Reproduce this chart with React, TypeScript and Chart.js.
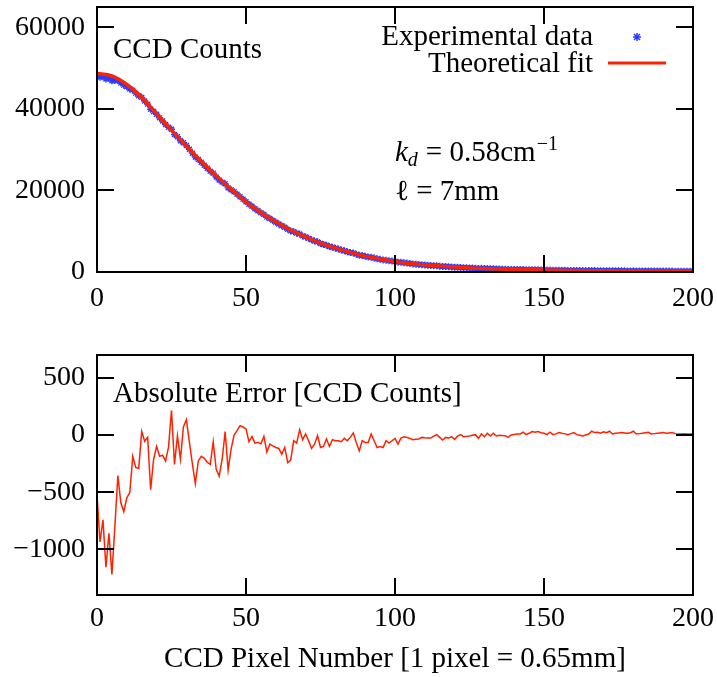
import React, { useEffect, useRef } from "react";
import { Chart, registerables } from "chart.js";

Chart.register(...registerables);

const FONT = "'Liberation Serif', 'Times New Roman', serif";
const FS = 28;
const TFS = 29;

// Tick labels
const xTickValues = [0, 50, 100, 150, 200];
const topYTickValues = [0, 20000, 40000, 60000];
const bottomYTickValues = [-1000, -500, 0, 500];

// Experimental data: CCD counts for pixel 0..200
const expCounts = [
  48180, 47750, 47880, 47360, 47490, 46880, 46950, 47000, 46360, 45830,
  45450, 44900, 44610, 43870, 43210, 42830, 41950, 41180, 39920, 39390,
  38700, 37810, 37020, 36170, 35490, 35020, 33740, 33190, 32190, 31720,
  31040, 30090, 29150, 28180, 27620, 26910, 26200, 25460, 24740, 24240,
  23300, 22540, 22040, 21630, 20640, 20180, 19700, 19090, 18480, 17870,
  17250, 16640, 16140, 15530, 15040, 14520, 14090, 13500, 13120, 12660,
  12190, 11780, 11330, 10990, 10460, 10080, 9900, 9530, 9300, 8860,
  8610, 8250, 7880, 7620, 7390, 6990, 6750, 6570, 6250, 6060,
  5850, 5630, 5400, 5210, 4970, 4780, 4640, 4380, 4120, 4030,
  3840, 3700, 3630, 3430, 3230, 3100, 2970, 2910, 2770, 2670,
  2570, 2420, 2370, 2290, 2180, 2070, 1990, 1920, 1860, 1800,
  1730, 1660, 1600, 1560, 1510, 1430, 1360, 1330, 1270, 1240,
  1160, 1150, 1120, 1070, 1030, 990, 970, 940, 880, 890,
  840, 840, 790, 790, 740, 720, 700, 670, 640, 640,
  630, 610, 600, 590, 560, 560, 560, 530, 530, 500,
  490, 460, 470, 440, 440, 440, 430, 410, 390, 390,
  390, 360, 350, 340, 340, 340, 350, 340, 330, 320,
  330, 310, 320, 290, 300, 290, 290, 280, 270, 270,
  280, 260, 250, 250, 250, 250, 230, 230, 230, 230,
  230, 220, 230, 220, 210, 210, 210, 210, 200, 200,
  200,
];

// Theoretical fit, sampled every 5 pixels
const fitPixels = [
  0, 5, 10, 15, 20, 25, 30, 35, 40, 45, 50, 55, 60, 65, 70, 75, 80, 85, 90, 95,
  100, 105, 110, 115, 120, 125, 130, 135, 140, 145, 150, 155, 160, 165, 170, 175,
  180, 185, 190, 195, 200,
];
const fitCounts = [
  48700, 48100, 46000, 42800, 38800, 34800, 30900, 27100, 23600, 20300,
  17200, 14600, 12300, 10300, 8600, 7100, 5900, 4800, 3900, 3200,
  2600, 2100, 1750, 1450, 1200, 1000, 850, 720, 620, 540,
  470, 420, 370, 330, 300, 270, 250, 230, 210, 200,
  190,
];

// Absolute error (data - fit) for pixel 0..200
const absError = [
  -520, -935, -743, -1157, -860, -1220, -800, -354, -593, -670,
  -550, -505, -186, -283, -292, 30, -55, -20, -478, -212,
  -100, -186, -177, -227, -106, 215, -257, -6, -212, 70,
  135, -62, -250, -425, -227, -186, -204, -239, -257, -59,
  -301, -360, -212, 30, -307, -124, 0, 38, 82, 70,
  53, -59, -12, -71, -65, -77, -12, -148, -80, -95,
  -109, -118, -168, -109, -242, -219, -50, -71, 47, -41,
  9, -50, -118, -80, -6, -109, -100, -35, -100, -41,
  -50, -50, -59, -29, -50, -21, 18, -65, -139, -50,
  -65, -65, 9, -50, -109, -100, -109, -50, -71, -50,
  -29, -80, -27, -15, -21, -30, -41, -38, -35, -21,
  -25, -27, -27, -10, 3, -21, -44, -21, -27, -15,
  -38, -10, 3, -15, -12, -9, -3, 3, -29, 9,
  -15, 15, -9, 15, -9, -3, -5, -6, -21, 0,
  5, 9, 9, 24, 3, 15, 30, 24, 30, 20,
  15, 3, 24, 3, 10, 21, 15, 10, 3, 12,
  21, 3, -3, -9, 0, 9, 33, 21, 24, 15,
  27, 20, 33, 9, 15, 18, 21, 18, 15, 20,
  33, 9, 12, 15, 20, 24, 9, 12, 15, 18,
  21, 15, 18, 21, 12, 9, 9, 10, 9, 9,
  9,
];

const RED = "#ff2200";
const BLUE = "#2a3cff";

const fmt = (v: number) => (v < 0 ? "\u2212" + Math.abs(v) : String(v));

const zeroPad = (s: any) => {
  s.paddingLeft = 0;
  s.paddingRight = 0;
  s.paddingTop = 0;
  s.paddingBottom = 0;
};

function framePlugin(yTicks: number[]) {
  return {
    id: "frame",
    afterDatasetsDraw(chart: any) {
      const { ctx, chartArea: a, scales } = chart;
      ctx.save();
      ctx.strokeStyle = "#000";
      ctx.lineWidth = 2;
      const L = 17;
      ctx.beginPath();
      for (const v of xTickValues) {
        const px = Math.round(scales.x.getPixelForValue(v));
        ctx.moveTo(px, a.bottom);
        ctx.lineTo(px, a.bottom - L);
        ctx.moveTo(px, a.top);
        ctx.lineTo(px, a.top + L);
      }
      for (const v of yTicks) {
        const py = Math.round(scales.y.getPixelForValue(v));
        ctx.moveTo(a.left, py);
        ctx.lineTo(a.left + L, py);
        ctx.moveTo(a.right, py);
        ctx.lineTo(a.right - L, py);
      }
      ctx.stroke();
      ctx.strokeRect(a.left, a.top, a.right - a.left, a.bottom - a.top);
      ctx.restore();
    },
  };
}

const topTextPlugin = {
  id: "topText",
  afterDraw(chart: any) {
    const ctx = chart.ctx;
    ctx.save();
    ctx.fillStyle = "#000";
    ctx.textBaseline = "alphabetic";
    ctx.font = `${TFS}px ${FONT}`;
    ctx.textAlign = "left";
    ctx.fillText("CCD Counts", 113, 58);
    ctx.textAlign = "right";
    ctx.fillText("Experimental data", 593, 45);
    ctx.fillText("Theoretical fit", 593, 72);
    // legend marks
    ctx.strokeStyle = BLUE;
    ctx.lineWidth = 1.5;
    ctx.beginPath();
    ctx.moveTo(634, 34);
    ctx.lineTo(640, 40);
    ctx.moveTo(640, 34);
    ctx.lineTo(634, 40);
    ctx.moveTo(637, 33);
    ctx.lineTo(637, 41);
    ctx.moveTo(633, 37);
    ctx.lineTo(641, 37);
    ctx.stroke();
    ctx.strokeStyle = RED;
    ctx.lineWidth = 3;
    ctx.beginPath();
    ctx.moveTo(608, 63);
    ctx.lineTo(666, 63);
    ctx.stroke();
    // k_d = 0.58cm^-1
    ctx.textAlign = "left";
    let x = 395;
    const by = 161;
    ctx.font = `italic ${TFS}px ${FONT}`;
    ctx.fillText("k", x, by);
    x += ctx.measureText("k").width;
    ctx.font = `italic 20px ${FONT}`;
    ctx.fillText("d", x, by + 5);
    x += ctx.measureText("d").width + 8;
    ctx.font = `${TFS}px ${FONT}`;
    ctx.fillText("= 0.58cm", x, by);
    x += ctx.measureText("= 0.58cm").width + 1;
    ctx.font = `20px ${FONT}`;
    ctx.fillText("\u22121", x, by - 11);
    // l = 7mm
    ctx.font = `${TFS}px ${FONT}`;
    ctx.fillText("\u2113 = 7mm", 395, 200);
    ctx.restore();
  },
};

const bottomTextPlugin = {
  id: "bottomText",
  afterDraw(chart: any) {
    const ctx = chart.ctx;
    ctx.save();
    ctx.fillStyle = "#000";
    ctx.textBaseline = "alphabetic";
    ctx.textAlign = "left";
    ctx.font = `${TFS}px ${FONT}`;
    ctx.fillText("Absolute Error [CCD Counts]", 113, 72);
    ctx.restore();
  },
};

const tickFont = { family: FONT, size: FS };

export default function App() {
  const topRef = useRef<HTMLCanvasElement | null>(null);
  const botRef = useRef<HTMLCanvasElement | null>(null);

  useEffect(() => {
    const top = new Chart(topRef.current as HTMLCanvasElement, {
      type: "scatter",
      data: {
        datasets: [
          {
            type: "line",
            label: "Theoretical fit",
            data: fitPixels.map((x, i) => ({ x, y: fitCounts[i] })),
            borderColor: RED,
            borderWidth: 3.5,
            pointRadius: 0,
            fill: false,
            cubicInterpolationMode: "monotone",
            order: 0,
          } as any,
          {
            type: "scatter",
            label: "Experimental data",
            data: expCounts.map((y, i) => ({ x: i, y })),
            pointStyle: "star",
            pointRadius: 3.5,
            borderColor: BLUE,
            backgroundColor: BLUE,
            borderWidth: 1.4,
            order: 1,
          } as any,
        ],
      },
      options: {
        responsive: false,
        animation: false,
        events: [],
        layout: { padding: { top: 7, right: 24, left: 0, bottom: 0 } },
        plugins: { legend: { display: false }, tooltip: { enabled: false } },
        scales: {
          x: {
            type: "linear",
            min: 0,
            max: 200,
            grid: { display: false, drawTicks: false },
            border: { display: false },
            afterBuildTicks: (s: any) => {
              s.ticks = xTickValues.map((v) => ({ value: v }));
            },
            afterFit: (s: any) => {
              s.height = 58;
              zeroPad(s);
            },
            ticks: { font: tickFont, color: "#000", padding: 10, maxRotation: 0, autoSkip: false, callback: (v: any) => fmt(Number(v)) },
          },
          y: {
            type: "linear",
            min: 0,
            max: 65000,
            grid: { display: false, drawTicks: false },
            border: { display: false },
            afterBuildTicks: (s: any) => {
              s.ticks = topYTickValues.map((v) => ({ value: v }));
            },
            afterFit: (s: any) => {
              s.width = 97;
              zeroPad(s);
            },
            ticks: { font: tickFont, color: "#000", padding: 12, autoSkip: false, callback: (v: any) => fmt(Number(v)) },
          },
        },
      },
      plugins: [framePlugin(topYTickValues), topTextPlugin],
    });

    const bottom = new Chart(botRef.current as HTMLCanvasElement, {
      type: "line",
      data: {
        datasets: [
          {
            label: "Absolute Error",
            data: absError.map((y, i) => ({ x: i, y })),
            borderColor: RED,
            borderWidth: 1.5,
            pointRadius: 0,
            fill: false,
            tension: 0,
          },
        ],
      },
      options: {
        responsive: false,
        animation: false,
        events: [],
        layout: { padding: { top: 25, right: 24, left: 0, bottom: 0 } },
        plugins: { legend: { display: false }, tooltip: { enabled: false } },
        scales: {
          x: {
            type: "linear",
            min: 0,
            max: 200,
            grid: { display: false, drawTicks: false },
            border: { display: false },
            afterBuildTicks: (s: any) => {
              s.ticks = xTickValues.map((v) => ({ value: v }));
            },
            afterFit: (s: any) => {
              s.height = 82;
              zeroPad(s);
            },
            ticks: { font: tickFont, color: "#000", padding: 7, maxRotation: 0, autoSkip: false, callback: (v: any) => fmt(Number(v)) },
            title: {
              display: true,
              text: "CCD Pixel Number [1 pixel = 0.65mm]",
              font: { family: FONT, size: TFS },
              color: "#000",
              padding: { top: 0, bottom: 0 },
            },
          },
          y: {
            type: "linear",
            min: -1400,
            max: 700,
            grid: { display: false, drawTicks: false },
            border: { display: false },
            afterBuildTicks: (s: any) => {
              s.ticks = bottomYTickValues.map((v) => ({ value: v }));
            },
            afterFit: (s: any) => {
              s.width = 97;
              zeroPad(s);
            },
            ticks: { font: tickFont, color: "#000", padding: 12, autoSkip: false, callback: (v: any) => fmt(Number(v)) },
          },
        },
      },
      plugins: [framePlugin(bottomYTickValues), bottomTextPlugin],
    });

    return () => {
      top.destroy();
      bottom.destroy();
    };
  }, []);

  return (
    <div style={{ position: "absolute", left: 0, top: 0, width: 717, height: 677, background: "#fff" }}>
      <canvas ref={topRef} width={717} height={330} style={{ position: "absolute", left: 0, top: 0, width: 717, height: 330 }} />
      <canvas ref={botRef} width={717} height={347} style={{ position: "absolute", left: 0, top: 330, width: 717, height: 347 }} />
    </div>
  );
}
